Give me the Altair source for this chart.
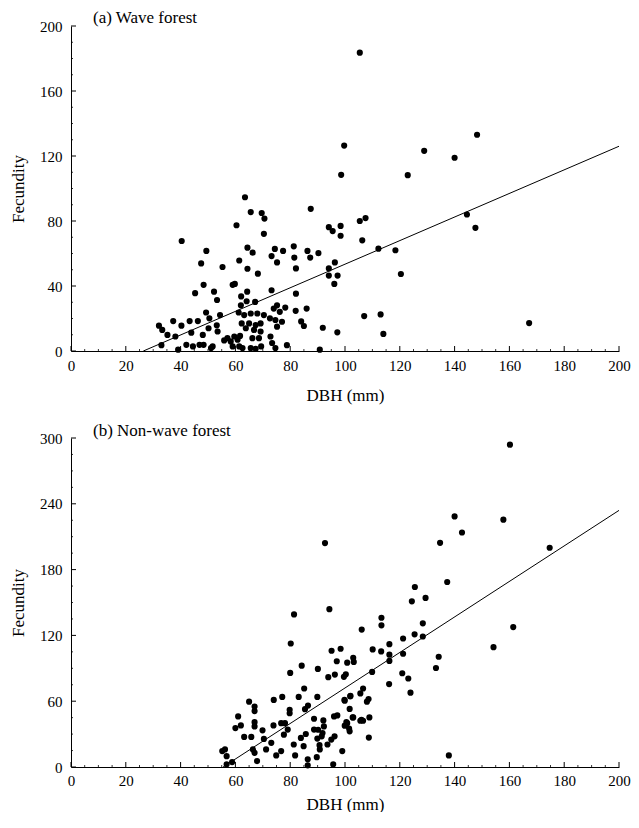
import altair as alt
import pandas as pd

# ---------------- data ----------------
wave_dbh = [105.4, 148.2, 99.7, 128.9, 140.0, 98.6, 122.9, 105.4, 107.5, 144.5, 147.6, 98.4, 98.4, 106.3,
            112.2, 118.4, 120.4, 107.0, 113.0, 114.0, 167.2, 97.2,
            63.5, 65.6, 69.6, 70.6, 87.5, 60.4, 70.4, 40.4, 94.1, 95.5, 49.4, 64.4, 66.3, 74.4, 77.4, 73.2,
            75.2, 81.3, 81.5, 82.1, 86.3, 87.3, 90.3, 47.5, 61.4, 64.4, 68.2, 55.3, 48.4, 59.0, 59.8, 45.3,
            52.2, 53.3, 62.1, 64.3, 73.2, 82.1, 94.1, 94.1, 96.3, 97.3, 96.1, 91.9, 82.0, 86.0, 84.0, 85.0,
            78.8, 90.8, 32.1, 33.3, 37.3, 35.2, 40.3, 43.3, 46.3, 38.1, 33.0, 43.9, 42.1, 44.5, 46.9, 39.1,
            48.1, 49.3, 50.5, 50.2, 53.2, 53.5, 54.4, 51.7, 48.4, 51.1, 55.9, 57.1, 58.3, 59.6, 60.8, 61.7,
            59.0, 61.4, 62.6, 61.2, 62.0, 64.1, 67.2, 63.2, 65.6, 68.0, 70.4, 72.6, 62.3, 65.0, 67.4, 69.2,
            63.8, 66.8, 69.2, 66.2, 68.6, 65.6, 67.4, 69.4, 72.8, 73.4, 74.6, 74.0, 75.2, 76.2, 74.6, 77.0,
            75.2, 78.2]
wave_fec = [183.6, 133.1, 126.4, 123.2, 118.9, 108.4, 108.2, 80.0, 81.8, 84.0, 75.8, 77.0, 70.9, 68.1,
            63.0, 62.0, 47.4, 21.5, 22.5, 10.5, 17.2, 11.5,
            94.6, 85.5, 84.9, 81.5, 87.5, 77.4, 72.1, 67.7, 76.2, 73.8, 61.6, 63.6, 60.5, 62.8, 61.6, 58.4,
            54.5, 64.4, 57.5, 50.8, 61.6, 57.5, 60.2, 53.9, 55.7, 50.6, 47.6, 51.7, 40.7, 40.7, 41.3, 35.6,
            36.5, 31.4, 33.6, 36.5, 37.4, 35.3, 50.8, 46.4, 54.5, 46.4, 41.3, 14.3, 24.7, 26.1, 18.2, 15.4,
            3.6, 0.8, 15.6, 13.0, 18.4, 9.9, 15.6, 18.4, 18.4, 8.9, 3.6, 11.3, 3.8, 2.8, 3.8, 0.8,
            9.9, 23.7, 20.1, 14.0, 15.8, 12.0, 22.1, 2.8, 3.8, 1.8, 6.5, 7.9, 5.9, 8.9, 6.9, 9.3,
            2.8, 2.8, 1.8, 23.7, 28.1, 30.6, 30.2, 22.1, 23.1, 23.1, 22.1, 20.1, 17.0, 17.0, 16.0, 17.0,
            14.0, 13.0, 12.0, 7.9, 7.9, 1.8, 1.4, 2.8, 8.9, 4.9, 1.8, 26.1, 28.1, 24.1, 19.1, 18.0,
            15.0, 26.7]

nonwave_dbh = [160.2, 140.0, 157.8, 142.7, 134.7, 174.7, 137.3, 125.5, 124.4, 129.4, 113.3, 113.3, 106.1,
               128.4, 125.4, 128.4, 121.2, 161.4, 154.2, 116.2, 116.2, 116.2, 113.2, 110.1, 121.2, 134.2,
               133.2, 120.9, 123.1, 123.9, 116.1, 109.9, 137.9, 103.0, 103.2, 100.8, 100.3, 99.6, 101.9,
               99.9, 106.6, 105.6, 108.6, 108.0, 101.7, 103.0, 105.6, 106.6, 108.9, 99.9, 101.7, 108.7,
               99.0, 98.4,
               92.7, 94.3, 81.4, 80.2, 95.1, 97.0, 80.0, 84.2, 90.1, 93.9, 96.3, 85.1, 83.1, 89.9, 74.0,
               77.1, 79.8, 79.8, 86.5, 85.4, 65.0, 67.0, 67.0, 61.0, 60.0, 62.0, 63.2, 65.8, 67.0, 67.0,
               69.9, 70.4, 73.1, 73.9, 76.7, 78.1, 79.1, 77.7, 74.9, 76.7, 81.3, 81.8, 83.9, 85.7, 84.9,
               86.4, 86.4, 88.7, 89.9, 89.7, 90.8, 91.8, 92.3, 93.6, 95.0, 96.2, 95.7, 96.0, 99.8, 100.8,
               55.2, 56.2, 56.8, 56.8, 58.8, 67.0, 67.9, 66.4, 71.2,
               102.0, 97.2, 102.8, 106.0, 88.7, 92.1, 90.2, 91.5, 90.7, 100.5, 101.5]
nonwave_fec = [293.9, 228.5, 225.5, 213.8, 204.4, 199.9, 168.7, 164.1, 151.1, 154.2, 136.1, 129.2, 125.3,
               131.0, 121.0, 119.0, 117.2, 127.6, 109.3, 112.0, 102.4, 96.7, 105.4, 107.2, 103.3, 100.5,
               90.3, 85.5, 80.7, 67.8, 75.6, 86.7, 10.6, 99.6, 95.8, 95.1, 84.6, 82.2, 64.4,
               60.5, 71.6, 67.1, 62.0, 59.6, 53.0, 45.2, 42.2, 42.2, 45.2, 37.7, 32.5, 26.8,
               14.5, 107.8,
               204.2, 143.9, 139.1, 112.6, 106.0, 96.4, 85.8, 92.4, 89.4, 81.9, 84.3, 71.6, 63.9, 63.9, 61.2,
               63.9, 52.1, 49.0, 56.0, 52.7, 59.6, 55.1, 51.0, 46.1, 35.5, 37.9, 27.4, 27.4, 40.9, 37.0,
               33.4, 25.6, 22.0, 37.9, 40.0, 40.0, 34.1, 29.5, 10.6, 14.5, 20.5, 10.6, 26.5, 30.1, 19.0,
               7.0, 1.5, 34.1, 25.9, 9.0, 16.0, 31.0, 37.0, 20.5, 25.0, 28.0, 2.4, 46.1, 61.2, 40.0,
               14.5, 16.0, 9.9, 2.4, 4.5, 12.9, 5.4, 16.0, 16.0,
               64.8, 47.0, 45.2, 43.0, 44.0, 42.5, 34.0, 28.0, 19.9, 41.0, 35.0]

fit_a_dbh = [26.4, 200]
fit_a_fec = [0, 126]
fit_b_dbh = [55.5, 200]
fit_b_fec = [0, 234]

x_ticks = [0, 20, 40, 60, 80, 100, 120, 140, 160, 180, 200]
x_minor = [v for v in range(0, 201, 5) if v % 20]
ya_ticks = [0, 40, 80, 120, 160, 200]
ya_minor = [v for v in range(0, 201, 10) if v % 40]
yb_ticks = [0, 60, 120, 180, 240, 300]
yb_minor = [v for v in range(0, 301, 15) if v % 60]
panel_titles = ["(a) Wave forest", "(b) Non-wave forest"]

FONT = "Liberation Serif"
W = 548


def panel(dbh, fec, fit_x, fit_y, yticks, yminor, label, h, label_y, lab_pad, title_pad):
    ymax = yticks[-1]
    xs = alt.Scale(domain=[0, 200], nice=False, zero=False)
    ys = alt.Scale(domain=[0, ymax], nice=False, zero=False)
    xax = alt.Axis(title="DBH (mm)", values=x_ticks, ticks=False, grid=False, labelFlush=False,
                   labelOverlap=False, labelPadding=lab_pad, titlePadding=title_pad, labelFontSize=15,
                   titleFontSize=17, titleFontWeight="normal", labelFont=FONT, titleFont=FONT,
                   domainColor="black", labelColor="black", titleColor="black")
    yax = alt.Axis(title="Fecundity", values=yticks, ticks=False, grid=False, labelFlush=False,
                   labelOverlap=False, labelPadding=9, titlePadding=12, labelFontSize=15,
                   titleFontSize=17, titleFontWeight="normal", labelFont=FONT, titleFont=FONT,
                   domainColor="black", labelColor="black", titleColor="black")

    pts = alt.Chart(pd.DataFrame({"dbh": dbh, "fec": fec})).mark_circle(
        size=38, color="black", opacity=1
    ).encode(x=alt.X("dbh:Q", scale=xs, axis=xax), y=alt.Y("fec:Q", scale=ys, axis=yax))

    line = alt.Chart(pd.DataFrame({"dbh": fit_x, "fec": fit_y})).mark_line(
        color="black", strokeWidth=1
    ).encode(x="dbh:Q", y="fec:Q")

    xt = alt.Chart(pd.DataFrame({"dbh": x_ticks})).mark_rule(color="black", strokeWidth=1).encode(
        x="dbh:Q", y=alt.value(h), y2=alt.value(h - 5))
    xm = alt.Chart(pd.DataFrame({"dbh": x_minor})).mark_rule(color="black", strokeWidth=0.8).encode(
        x="dbh:Q", y=alt.value(h), y2=alt.value(h - 2))
    yt = alt.Chart(pd.DataFrame({"fec": yticks})).mark_rule(color="black", strokeWidth=1).encode(
        y="fec:Q", x=alt.value(0), x2=alt.value(5))
    ym = alt.Chart(pd.DataFrame({"fec": yminor})).mark_rule(color="black", strokeWidth=0.8).encode(
        y="fec:Q", x=alt.value(0), x2=alt.value(2))

    txt = alt.Chart(pd.DataFrame({"t": [label]})).mark_text(
        align="left", baseline="alphabetic", fontSize=17, font=FONT, color="black"
    ).encode(text="t:N", x=alt.value(22), y=alt.value(label_y))

    return alt.layer(xt, xm, yt, ym, line, pts, txt).properties(width=W, height=h)


top = panel(wave_dbh, wave_fec, fit_a_dbh, fit_a_fec, ya_ticks, ya_minor, panel_titles[0], 325, -3, 7, 14)
bottom = panel(nonwave_dbh, nonwave_fec, fit_b_dbh, fit_b_fec, yb_ticks, yb_minor, panel_titles[1],
               329, -2, 6, 8)

chart = alt.vconcat(top, bottom, spacing=19).properties(
    padding={"left": 1, "top": 1, "right": 0, "bottom": 0}
).configure_view(stroke=None)

chart.save("out.html", embed_options={"renderer": "svg", "actions": False})
